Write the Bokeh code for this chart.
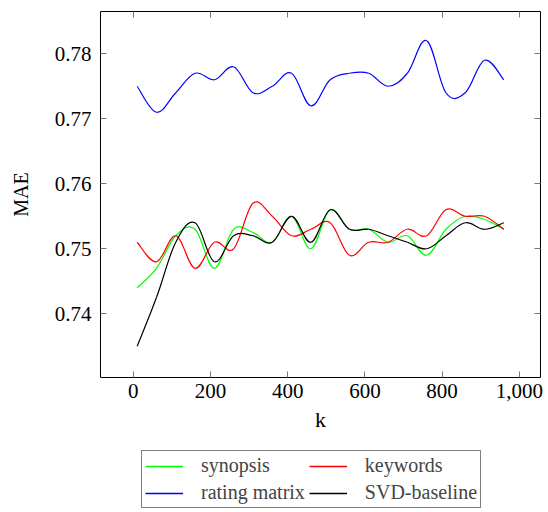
from bokeh.plotting import figure
from bokeh.layouts import column
from bokeh.models import (ColumnDataSource, Legend, LegendItem, LinearAxis,
                          FixedTicker, NumeralTickFormatter, Range1d)
from bokeh.embed import file_html
from bokeh.resources import INLINE

# ---- data ----
k = [10, 60, 110, 160, 210, 260, 310, 360, 410, 460,
     510, 560, 610, 660, 710, 760, 810, 860, 910, 960]
synopsis = [0.744, 0.747, 0.752, 0.753, 0.747, 0.753, 0.7525, 0.751, 0.755, 0.750,
            0.756, 0.753, 0.753, 0.751, 0.752, 0.749, 0.753, 0.755, 0.7545, 0.753]
keywords = [0.751, 0.748, 0.752, 0.747, 0.751, 0.750, 0.757, 0.755, 0.752, 0.753,
            0.754, 0.749, 0.751, 0.751, 0.753, 0.752, 0.756, 0.755, 0.755, 0.753]
rating_matrix = [0.775, 0.771, 0.774, 0.777, 0.776, 0.778, 0.774, 0.775, 0.777, 0.772,
                 0.776, 0.777, 0.777, 0.775, 0.777, 0.782, 0.774, 0.774, 0.779, 0.776]
svd_baseline = [0.735, 0.7425, 0.751, 0.754, 0.748, 0.752, 0.752, 0.751, 0.755, 0.751,
                0.756, 0.753, 0.753, 0.752, 0.751, 0.750, 0.752, 0.754, 0.753, 0.754]

series_names = ["synopsis", "keywords", "rating matrix", "SVD-baseline"]
series_values = [synopsis, keywords, rating_matrix, svd_baseline]
series_colors = ["#00ff00", "#ff0000", "#0000ff", "#000000"]

x_ticks = [0, 200, 400, 600, 800, 1000]
y_ticks = [0.74, 0.75, 0.76, 0.77, 0.78]

FONT = "Liberation Serif"
TICK_FS = "21px"
TENSION = 0.18


def smooth_segments(xs, ys, f=TENSION):
    n = len(xs)
    d = dict(x0=[], y0=[], x1=[], y1=[], cx0=[], cy0=[], cx1=[], cy1=[])
    for i in range(n - 1):
        ip = max(i - 1, 0)
        inx = min(i + 2, n - 1)
        d["x0"].append(xs[i]); d["y0"].append(ys[i])
        d["x1"].append(xs[i + 1]); d["y1"].append(ys[i + 1])
        d["cx0"].append(xs[i] + f * (xs[i + 1] - xs[ip]))
        d["cy0"].append(ys[i] + f * (ys[i + 1] - ys[ip]))
        d["cx1"].append(xs[i + 1] - f * (xs[inx] - xs[i]))
        d["cy1"].append(ys[i + 1] - f * (ys[inx] - ys[i]))
    return d


xspan = max(k) - min(k)
p = figure(width=544, height=440, output_backend="svg", toolbar_location=None,
           x_range=Range1d(min(k) - 0.1 * xspan, max(k) + 0.1 * xspan),
           y_range=Range1d(0.7302, 0.7865),
           min_border_left=100, min_border_right=4, min_border_top=11,
           min_border_bottom=63)
p.grid.visible = False
p.outline_line_color = "black"
p.outline_line_width = 1
p.background_fill_color = "white"
p.border_fill_color = "white"

for name, vals, col in zip(series_names, series_values, series_colors):
    src = ColumnDataSource(smooth_segments(k, vals))
    p.bezier(x0="x0", y0="y0", x1="x1", y1="y1", cx0="cx0", cy0="cy0",
             cx1="cx1", cy1="cy1", source=src, line_color=col, line_width=1.2)


def style_axis(ax, labels=True):
    ax.major_tick_in = 6
    ax.major_tick_out = 0
    ax.minor_tick_in = 0
    ax.minor_tick_out = 0
    ax.major_tick_line_color = "#777777"
    ax.axis_line_color = None
    ax.major_label_text_font = FONT
    ax.major_label_text_font_size = TICK_FS
    ax.major_label_text_color = "black"
    ax.axis_label_text_font = FONT
    ax.axis_label_text_font_size = "22px"
    ax.axis_label_text_font_style = "normal"
    ax.axis_label_text_color = "black"
    if not labels:
        ax.major_label_text_font_size = "0px"


p.xaxis.ticker = FixedTicker(ticks=x_ticks)
p.xaxis.formatter = NumeralTickFormatter(format="0,0")
p.xaxis.axis_label = "k"
p.xaxis.major_label_standoff = 6
p.xaxis.axis_label_standoff = 6
p.yaxis.ticker = FixedTicker(ticks=y_ticks)
p.yaxis.formatter = NumeralTickFormatter(format="0.00")
p.yaxis.axis_label = "MAE"
p.yaxis.major_label_standoff = 9
p.yaxis.axis_label_standoff = 20
style_axis(p.xaxis[0])
style_axis(p.yaxis[0])
p.yaxis[0].axis_label_text_font_size = "20px"

top_ax = LinearAxis(ticker=FixedTicker(ticks=x_ticks))
style_axis(top_ax, labels=False)
top_ax.major_label_standoff = 0
p.add_layout(top_ax, "above")
right_ax = LinearAxis(ticker=FixedTicker(ticks=y_ticks))
style_axis(right_ax, labels=False)
right_ax.major_label_standoff = 0
p.add_layout(right_ax, "right")

# ---- legend strip below the chart ----
lg = figure(width=544, height=72, output_backend="svg", toolbar_location=None,
            x_range=Range1d(2000, 2001), y_range=Range1d(0, 1),
            min_border_left=0, min_border_right=0, min_border_top=0,
            min_border_bottom=0)
lg.axis.visible = False
lg.grid.visible = False
lg.outline_line_color = None
lg.border_fill_color = "white"
items = []
for name, vals, col in zip(series_names, series_values, series_colors):
    # a single-point line: draws nothing, only supplies the legend sample
    lr = lg.line(x=[k[0]], y=[vals[0]], line_color=col, line_width=1.3)
    items.append(LegendItem(label=name, renderers=[lr]))

legend = Legend(items=items, orientation="horizontal", ncols=2,
                location=(41, 4))
legend.label_text_font = FONT
legend.label_text_font_size = "20px"
legend.label_height = 20
legend.glyph_width = 38
legend.glyph_height = 20
legend.spacing = 4
legend.padding = 3
legend.margin = 0
legend.label_standoff = 18
legend.border_line_color = "black"
legend.border_line_width = 1
legend.background_fill_alpha = 1
lg.add_layout(legend, "center")

layout = column(p, lg, spacing=0)
open("out.html", "w").write(file_html(layout, INLINE))
